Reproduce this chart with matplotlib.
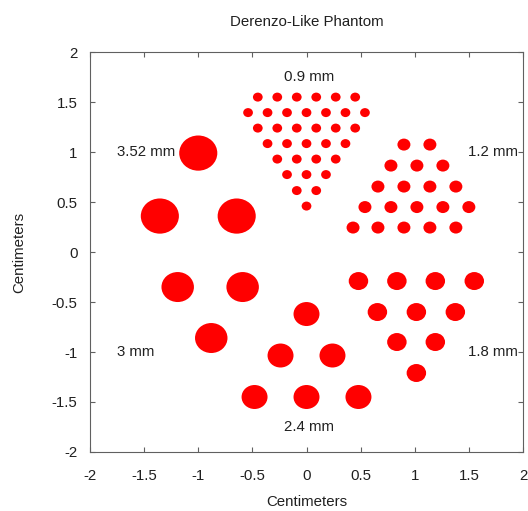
import matplotlib
matplotlib.use('Agg')
import matplotlib.pyplot as plt
from matplotlib.patches import Circle
from matplotlib.ticker import FormatStrFormatter, MultipleLocator

plt.rcParams['font.family'] = ['Liberation Sans', 'DejaVu Sans']

# hole diameters (cm) for each sector
d_09 = 0.09
d_12 = 0.12
d_18 = 0.18
d_24 = 0.24
d_30 = 0.30
d_352 = 0.352

# 0.9 mm sector: row heights and hole x positions per row
rows_09_y = [0.46, 0.615, 0.775, 0.93, 1.085, 1.24, 1.395, 1.55]
rows_09_x = [
    [0.0],
    [-0.09, 0.09],
    [-0.18, 0.0, 0.18],
    [-0.27, -0.09, 0.09, 0.27],
    [-0.36, -0.18, 0.0, 0.18, 0.36],
    [-0.45, -0.27, -0.09, 0.09, 0.27, 0.45],
    [-0.54, -0.36, -0.18, 0.0, 0.18, 0.36, 0.54],
    [-0.45, -0.27, -0.09, 0.09, 0.27, 0.45],
]

# 1.2 mm sector
rows_12_y = [0.245, 0.45, 0.655, 0.865, 1.075]
rows_12_x = [
    [0.43, 0.66, 0.90, 1.14, 1.38],
    [0.54, 0.78, 1.02, 1.26, 1.50],
    [0.66, 0.90, 1.14, 1.38],
    [0.78, 1.02, 1.26],
    [0.90, 1.14],
]

# 1.8 mm sector
rows_18_y = [-0.29, -0.60, -0.90, -1.21]
rows_18_x = [
    [0.48, 0.835, 1.19, 1.55],
    [0.655, 1.015, 1.375],
    [0.835, 1.19],
    [1.015],
]

# 2.4 mm sector
rows_24_y = [-0.62, -1.035, -1.45]
rows_24_x = [
    [0.0],
    [-0.24, 0.24],
    [-0.48, 0.0, 0.48],
]

# 3 mm sector
rows_30_y = [-0.35, -0.86]
rows_30_x = [
    [-1.19, -0.59],
    [-0.88],
]

# 3.52 mm sector
rows_352_y = [0.99, 0.36]
rows_352_x = [
    [-1.0],
    [-1.355, -0.645],
]

sectors = [
    (d_09, rows_09_y, rows_09_x),
    (d_12, rows_12_y, rows_12_x),
    (d_18, rows_18_y, rows_18_x),
    (d_24, rows_24_y, rows_24_x),
    (d_30, rows_30_y, rows_30_x),
    (d_352, rows_352_y, rows_352_x),
]

labels = ['0.9 mm', '1.2 mm', '1.8 mm', '2.4 mm', '3 mm', '3.52 mm']
label_x = [0.02, 1.49, 1.49, 0.02, -1.75, -1.75]
label_y = [1.75, 1.0, -1.0, -1.75, -1.0, 1.0]
label_ha = ['center', 'left', 'left', 'center', 'left', 'left']

fig = plt.figure(figsize=(5.28, 5.11), dpi=100)
ax = fig.add_axes([0.1705, 0.1155, 0.82, 0.7825])

for d, ys, xs in sectors:
    for y, row in zip(ys, xs):
        for x in row:
            ax.add_patch(Circle((x, y), d / 2, facecolor='#ff0000', edgecolor='none'))

for t, x, y, ha in zip(labels, label_x, label_y, label_ha):
    ax.text(x, y, t, ha=ha, va='center', fontsize=10.8, color='#202020')

ax.set_xlim(-2, 2)
ax.set_ylim(-2, 2)
ax.xaxis.set_major_locator(MultipleLocator(0.5))
ax.yaxis.set_major_locator(MultipleLocator(0.5))
ax.xaxis.set_major_formatter(FormatStrFormatter('%g'))
ax.yaxis.set_major_formatter(FormatStrFormatter('%g'))
ax.tick_params(direction='in', top=True, right=True, length=3.5, width=0.8,
               color='#606060', labelsize=10.8, labelcolor='#202020')
ax.tick_params(axis='x', pad=12)
ax.tick_params(axis='y', pad=9)
for s in ax.spines.values():
    s.set_color('#606060')
    s.set_linewidth(0.8)

ax.set_title('Derenzo-Like Phantom', fontsize=10.8, color='#202020', pad=19)
ax.set_xlabel('Centimeters', fontsize=10.8, color='#202020', labelpad=9)
ax.set_ylabel('Centimeters', fontsize=10.8, color='#202020', labelpad=18)

fig.savefig('out.png', dpi=100)
